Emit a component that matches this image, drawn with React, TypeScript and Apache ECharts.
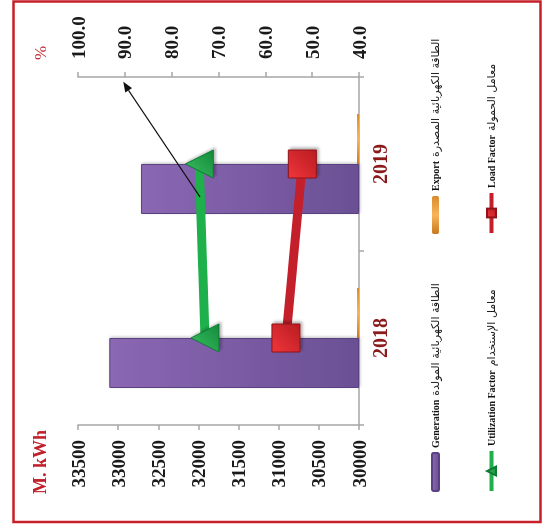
import React, { useEffect, useRef } from 'react';
import * as echarts from 'echarts';

const categories = ['2018', '2019'];
const generation = [33110, 32715];
const exportVals = [30000, 30000];
const utilization = [72.9, 74.1];
const loadFactor = [55.6, 52.1];

const seriesNames = ['Generation', 'Export', 'Utilization Factor', 'Load Factor'];
const arabicNames = [
  'الطاقة الكهربائية المولدة',
  'الطاقة الكهربائية المصدرة',
  'معامل الإستخدام',
  'معامل الحمولة',
];

const energyAxisName = 'M. kWh';
const percentAxisName = '%';

const W = 525;
const H = 542;

export default function App() {
  const ref = useRef<HTMLDivElement>(null);

  useEffect(() => {
    if (!ref.current) return;
    const chart = echarts.init(ref.current, null, { renderer: 'svg', width: W, height: H });

    const serif = 'Liberation Serif, Times New Roman, serif';
    const grey = '#a6a6a6';

    const legendRich = {
      en: { fontFamily: serif, fontWeight: 'bold', fontSize: 10, color: '#111' },
      ar: { fontFamily: 'DejaVu Sans, sans-serif', fontSize: 11, color: '#1a1a1a', padding: [0, 0, 0, 4] },
    };
    const legendFmt = (name: string) => {
      const i = seriesNames.indexOf(name);
      return `{en|${name}}{ar|${arabicNames[i]}}`;
    };
    const mkLegend = (name: string, left: number, top: number, isLine: boolean) => ({
      data: [name],
      left,
      top,
      padding: 0,
      itemWidth: isLine ? 40 : 38,
      itemHeight: isLine ? 11 : 7,
      itemGap: 0,
      lineStyle: { width: 4 },
      formatter: legendFmt,
      textStyle: { rich: legendRich, padding: [0, 0, 0, 0] },
      selectedMode: false,
    });

    const purple = new echarts.graphic.LinearGradient(0, 0, 0, 1, [
      { offset: 0, color: '#8b67b3' },
      { offset: 1, color: '#6a5094' },
    ]);
    const orange = new echarts.graphic.LinearGradient(0, 0, 1, 0, [
      { offset: 0, color: '#c9791f' },
      { offset: 0.5, color: '#f8b45a' },
      { offset: 1, color: '#d98b2b' },
    ]);
    const redSq = new echarts.graphic.LinearGradient(0, 0, 1, 1, [
      { offset: 0, color: '#f0353a' },
      { offset: 1, color: '#b81c22' },
    ]);
    const greenTri = new echarts.graphic.LinearGradient(0, 0, 1, 1, [
      { offset: 0, color: '#3cc064' },
      { offset: 1, color: '#138a3a' },
    ]);

    const option: any = {
      animation: false,
      backgroundColor: '#ffffff',
      grid: { left: 100, right: 77, top: 78, bottom: 183 },
      legend: [
        mkLegend(seriesNames[0], 33, 430, false),
        mkLegend(seriesNames[1], 291, 430, false),
        mkLegend(seriesNames[2], 32, 486, true),
        mkLegend(seriesNames[3], 290, 486, true),
      ],
      xAxis: {
        type: 'category',
        data: categories,
        boundaryGap: true,
        axisLine: { lineStyle: { color: grey, width: 1.5 } },
        axisTick: { show: true, length: 5, lineStyle: { color: grey, width: 1.5 } },
        axisLabel: {
          margin: 11,
          fontFamily: serif,
          fontWeight: 'bold',
          fontSize: 20,
          color: '#8b1a1a',
        },
      },
      yAxis: [
        {
          type: 'value',
          min: 30000,
          max: 33500,
          interval: 500,
          startValue: 30000,
          name: energyAxisName,
          nameLocation: 'end',
          nameGap: 38,
          nameTextStyle: {
            fontFamily: serif,
            fontWeight: 'bold',
            fontSize: 18,
            color: '#c0202a',
            align: 'right',
            verticalAlign: 'middle',
            padding: [0, 5, 0, 0],
          },
          axisLine: { show: true, lineStyle: { color: grey, width: 1.5 } },
          axisTick: { show: true, length: 5, lineStyle: { color: grey, width: 1.5 } },
          splitLine: { show: false },
          axisLabel: {
            margin: 15,
            fontFamily: serif,
            fontWeight: 'bold',
            fontSize: 19,
            color: '#1a1a1a',
            formatter: (v: number) => String(v),
          },
        },
        {
          type: 'value',
          min: 40,
          max: 100,
          interval: 10,
          position: 'right',
          name: percentAxisName,
          nameLocation: 'end',
          nameGap: 38,
          nameTextStyle: {
            fontFamily: serif,
            fontSize: 17,
            color: '#c0202a',
            align: 'left',
            verticalAlign: 'middle',
            padding: [0, 0, 0, 17],
          },
          axisLine: { show: true, lineStyle: { color: grey, width: 1.5 } },
          axisTick: { show: true, length: 5, lineStyle: { color: grey, width: 1.5 } },
          splitLine: { show: false },
          axisLabel: {
            margin: 18,
            fontFamily: serif,
            fontWeight: 'bold',
            fontSize: 19,
            color: '#1a1a1a',
            formatter: (v: number) => v.toFixed(1),
          },
        },
      ],
      series: [
        {
          name: seriesNames[0],
          type: 'bar',
          data: generation,
          barWidth: 50,
          barGap: 0,
          itemStyle: {
            color: purple,
            borderColor: '#5a4282',
            borderWidth: 1,
            shadowColor: 'rgba(0,0,0,0.25)',
            shadowBlur: 3,
            shadowOffsetX: 1,
            shadowOffsetY: 1,
          },
        },
        {
          name: seriesNames[1],
          type: 'bar',
          data: exportVals,
          barWidth: 50,
          barGap: 0,
          barMinHeight: 2,
          clip: false,
          itemStyle: { color: orange },
        },
        {
          name: seriesNames[2],
          type: 'line',
          yAxisIndex: 1,
          data: utilization,
          symbol: 'triangle',
          symbolSize: 28,
          lineStyle: { color: '#1db04b', width: 9 },
          itemStyle: {
            color: greenTri,
            borderColor: '#107a33',
            borderWidth: 1,
            shadowColor: 'rgba(0,0,0,0.3)',
            shadowBlur: 3,
            shadowOffsetX: 2,
            shadowOffsetY: 2,
          },
          z: 3,
        },
        {
          name: seriesNames[3],
          type: 'line',
          yAxisIndex: 1,
          data: loadFactor,
          symbol: 'rect',
          symbolSize: 28,
          lineStyle: { color: '#c4202b', width: 9 },
          itemStyle: {
            color: redSq,
            borderColor: '#8e141a',
            borderWidth: 1,
            shadowColor: 'rgba(0,0,0,0.3)',
            shadowBlur: 3,
            shadowOffsetX: 2,
            shadowOffsetY: 2,
          },
          z: 3,
        },
      ],
      graphic: [
        {
          type: 'rect',
          shape: { x: 3, y: 13.5, width: 520.5, height: 527 },
          style: { fill: 'none', stroke: '#c8202a', lineWidth: 2.5 },
          silent: true,
          z: 0,
        },
        {
          type: 'line',
          shape: { x1: 328, y1: 200, x2: 434.7, y2: 128.6 },
          style: { stroke: '#111', lineWidth: 1.2 },
          z: 100,
        },
        {
          type: 'polygon',
          shape: { points: [[443.3, 123.3], [436.9, 131.9], [432.5, 125.3]] },
          style: { fill: '#111' },
          z: 100,
        },
      ],
    };

    chart.setOption(option);
    return () => chart.dispose();
  }, []);

  return (
    <div
      style={{
        position: 'fixed',
        left: 0,
        top: 0,
        width: W,
        height: H,
        transformOrigin: '0 0',
        transform: `translate(0px, ${W}px) rotate(-90deg)`,
        background: '#fff',
      }}
    >
      <div ref={ref} style={{ width: W, height: H }} />
    </div>
  );
}
